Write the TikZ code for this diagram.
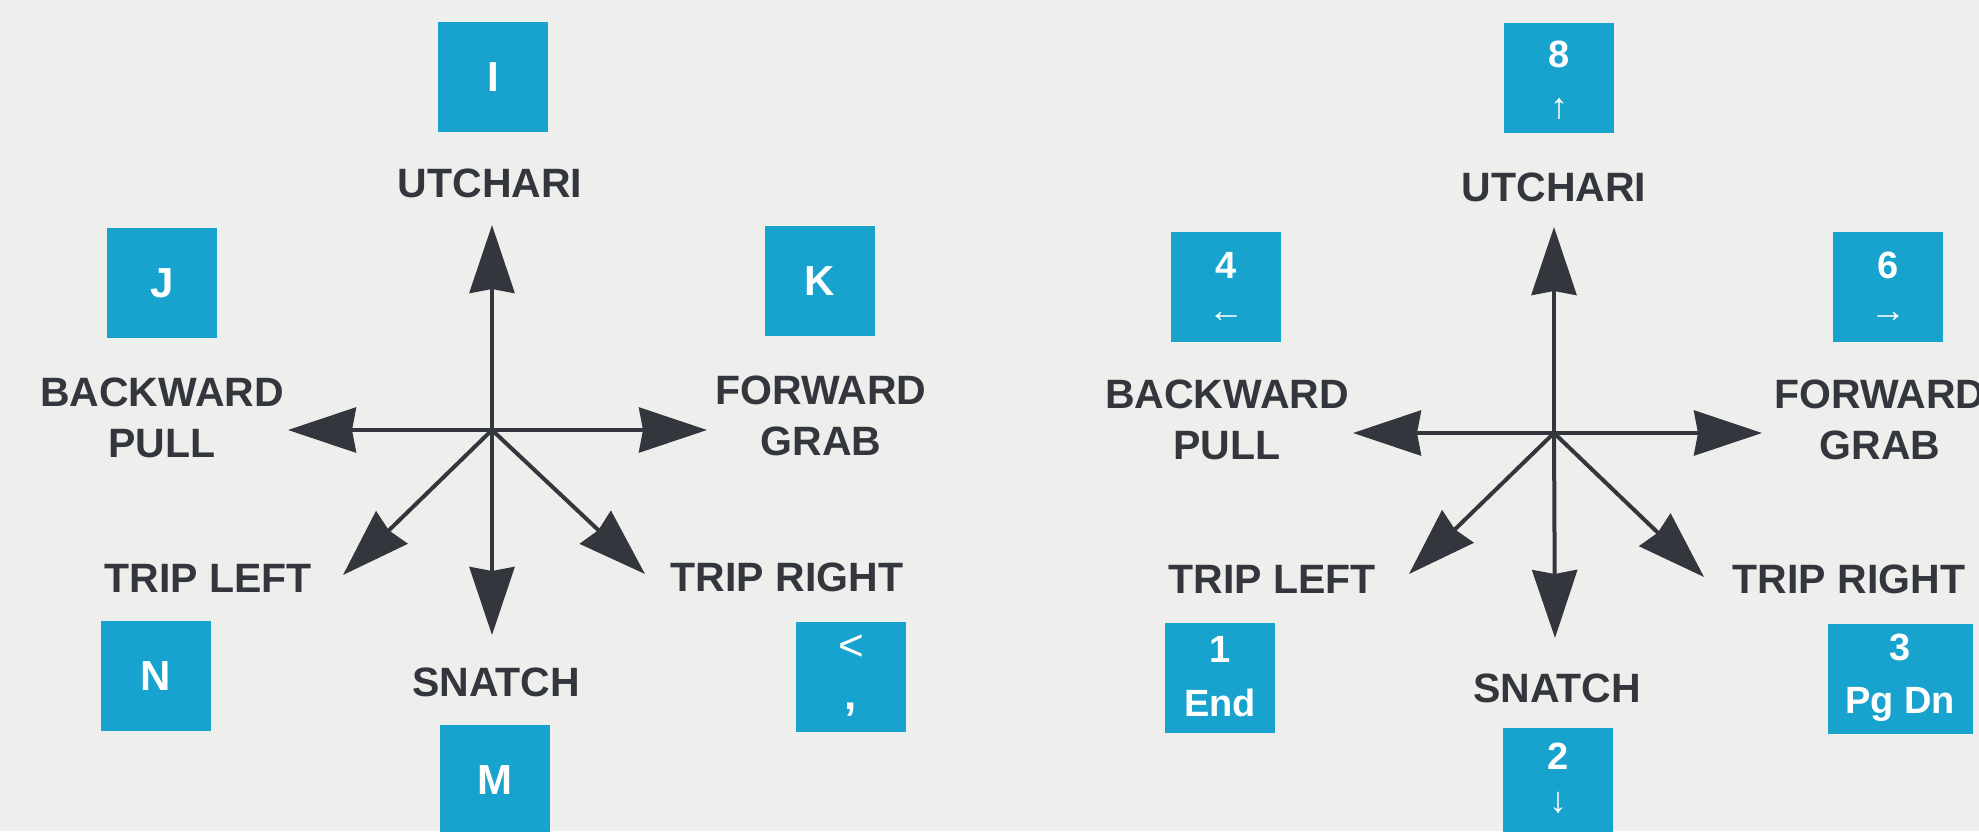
\documentclass[tikz,border=0pt]{standalone}
\usepackage{fontspec}
\setmainfont{Liberation Sans}
\usetikzlibrary{arrows.meta}
\definecolor{bg}{HTML}{EEEFED}
\definecolor{keyblue}{HTML}{17A3CD}
\definecolor{ink}{HTML}{33363C}
\begin{document}
\begin{tikzpicture}[x=1pt,y=-1pt,
  lbl/.style={text=ink, font=\fontsize{41}{51}\selectfont\bfseries, align=center, inner sep=0pt},
  key/.style={fill=keyblue, minimum width=110pt, minimum height=110pt, inner sep=0pt},
  keyletter/.style={text=white, font=\fontsize{42}{44}\selectfont\bfseries, inner sep=0pt},
  keytxt/.style={text=white, font=\fontsize{38}{40}\selectfont\bfseries, inner sep=0pt},
  keysym/.style={text=white, font=\fontsize{36}{40}\selectfont, inner sep=0pt},
  arr/.style={draw=ink, line width=4pt, -{Stealth[length=68pt,width=45pt,inset=4pt]}}]
\fill[bg] (0,0) rectangle (1979,831);
\useasboundingbox (0,0) rectangle (1979,831);
\clip (0,0) rectangle (1979,831);

% ---------- left diagram ----------
\coordinate (Lc) at (492,430);
\coordinate (Lu) at (492,225);
\coordinate (Ll) at (288,430);
\coordinate (Lr) at (707,430);
\coordinate (Ld) at (492,635);
\coordinate (Ldl) at (343,575);
\coordinate (Ldr) at (645,574);
\foreach \t in {Lu,Ll,Lr,Ld,Ldl,Ldr} \draw[arr] (Lc) -- (\t);

\node[lbl] (Lut) at (490,183) {UTCHARI};
\node[lbl] (Lbk) at (162,418) {BACKWARD\\PULL};
\node[lbl] (Lfw) at (821,416) {FORWARD\\GRAB};
\node[lbl] (Ltl) at (208,578) {TRIP LEFT};
\node[lbl] (Ltr) at (787,577) {TRIP RIGHT};
\node[lbl] (Lsn) at (496,682) {SNATCH};

\node[key] (kI) at (493,77) {}; \node[keyletter] (kIt) at (kI) {I};
\node[key] (kJ) at (162,283) {}; \node[keyletter] (kJt) at (kJ) {J};
\node[key] (kK) at (820,281) {}; \node[keyletter] (kKt) at (kK) {K};
\node[key] (kN) at (156,676) {}; \node[keyletter] (kNt) at (kN) {N};
\node[key] (kM) at (495,780) {}; \node[keyletter] (kMt) at (kM) {M};
\node[key] (kLt) at (851,677) {};
\node[keysym, font=\fontsize{44}{44}\selectfont] (kLta) at ([yshift=-26pt]kLt.north) {<};
\node[keysym, font=\fontsize{44}{44}\selectfont\bfseries] (kLtb) at ([yshift=-88pt]kLt.north) {,};

% ---------- right diagram ----------
\coordinate (Rc) at (1554,433);
\coordinate (Ru) at (1554,227);
\coordinate (Rl) at (1353,433);
\coordinate (Rr) at (1762,433);
\coordinate (Rd) at (1555,638);
\coordinate (Rdl) at (1409,574);
\coordinate (Rdr) at (1704,577);
\foreach \t in {Ru,Rl,Rr,Rd,Rdl,Rdr} \draw[arr] (Rc) -- (\t);

\node[lbl] (Rut) at (1554,187) {UTCHARI};
\node[lbl] (Rbk) at (1227,420) {BACKWARD\\PULL};
\node[lbl] (Rfw) at (1880,420) {FORWARD\\GRAB};
\node[lbl] (Rtl) at (1272,579) {TRIP LEFT};
\node[lbl] (Rtr) at (1849,579) {TRIP RIGHT};
\node[lbl] (Rsn) at (1557,688) {SNATCH};

\node[key] (k8) at (1559,78) {};
\node[keytxt] (k8a) at ([yshift=-32pt]k8.north) {8};
\node[keysym] (k8b) at ([yshift=-86pt]k8.north) {↑};
\node[key] (k4) at (1226,287) {};
\node[keytxt] (k4a) at ([yshift=-34pt]k4.north) {4};
\node[keysym] (k4b) at ([yshift=-86pt]k4.north) {←};
\node[key] (k6) at (1888,287) {};
\node[keytxt] (k6a) at ([yshift=-34pt]k6.north) {6};
\node[keysym] (k6b) at ([yshift=-86pt]k6.north) {→};
\node[key] (k1) at (1220,678) {};
\node[keytxt] (k1a) at ([yshift=-27pt]k1.north) {1};
\node[keytxt] (k1b) at ([yshift=-80pt]k1.north) {End};
\node[key, minimum width=145pt] (k3) at (1900,679) {};
\node[keytxt] (k3a) at ([yshift=-24pt]k3.north) {3};
\node[keytxt, anchor=base] (k3b) at ([yshift=-90pt]k3.north) {Pg Dn};
\node[key] (k2) at (1558,783) {};
\node[keytxt] (k2a) at ([yshift=-28pt]k2.north) {2};
\node[keysym] (k2b) at ([yshift=-75pt]k2.north) {↓};
\end{tikzpicture}
\end{document}
